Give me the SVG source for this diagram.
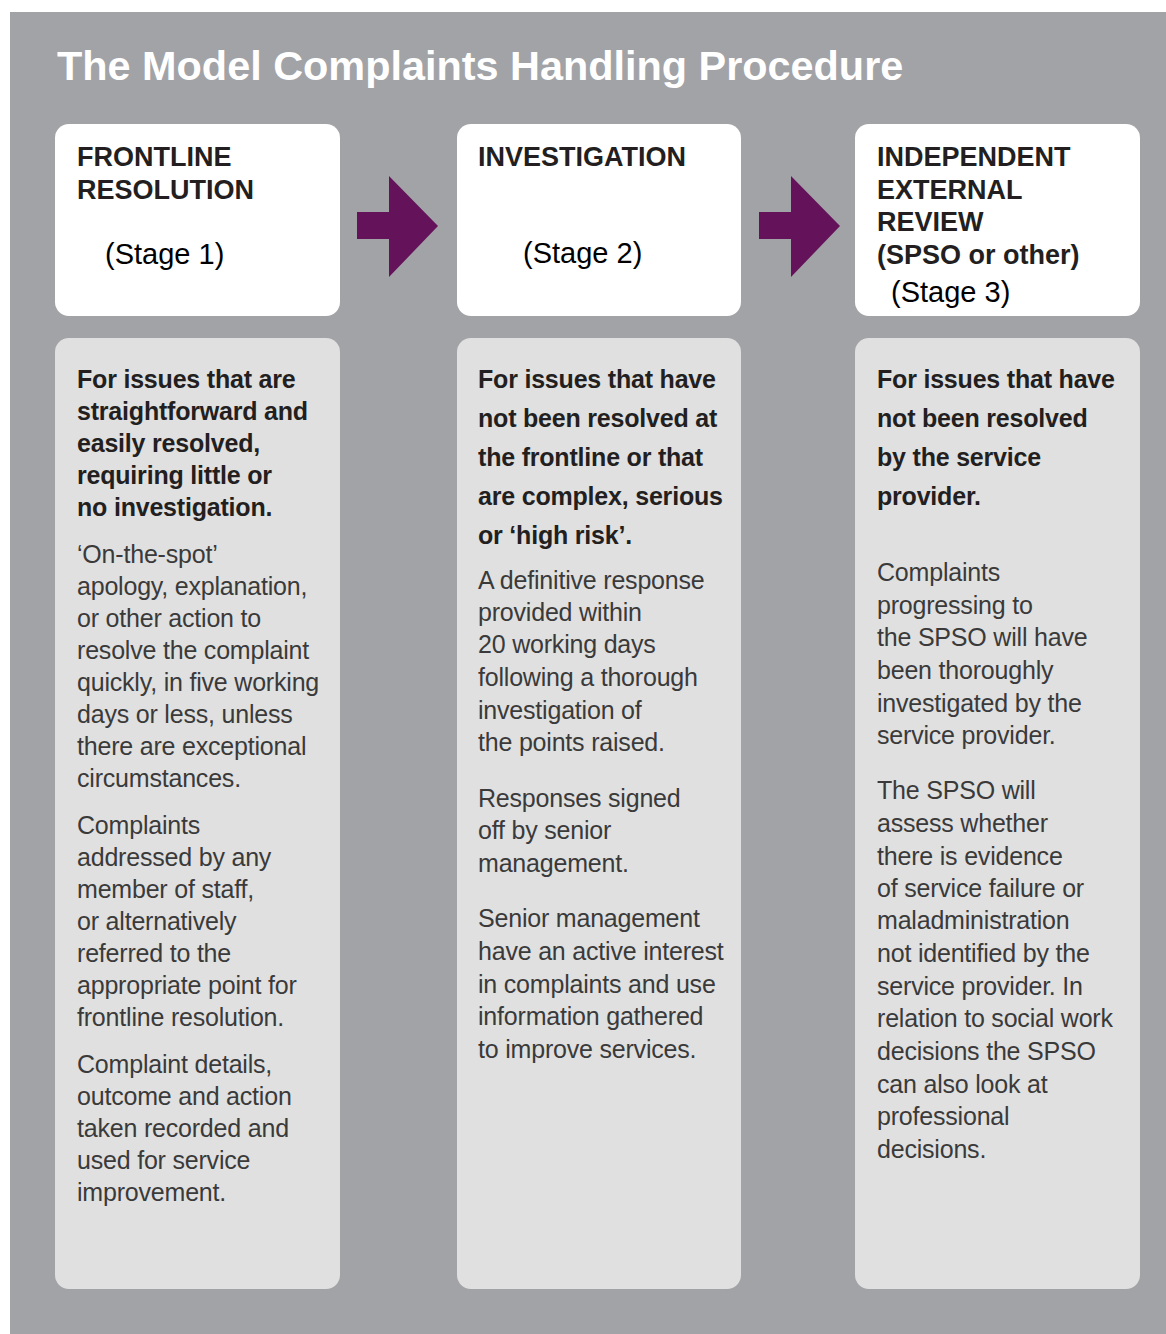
<svg xmlns="http://www.w3.org/2000/svg" width="1166" height="1334" viewBox="0 0 1166 1334">
<style>
.bg{fill:#a2a3a7}
.hdr{fill:#ffffff}
.body{fill:#e0e0e0}
.title{font-family:"Liberation Sans",Arial,sans-serif;font-weight:bold;font-size:41.4px;fill:#ffffff}
.h{font-family:"Liberation Sans",Arial,sans-serif;font-weight:bold;font-size:27px;fill:#231f20}
.stage{font-family:"Liberation Sans",Arial,sans-serif;font-size:29px;fill:#000000}
.b{font-family:"Liberation Sans",Arial,sans-serif;font-weight:bold;font-size:25px;fill:#231f20;letter-spacing:-0.2px}
.l{font-family:"Liberation Sans",Arial,sans-serif;font-size:25px;fill:#3a3a3a;letter-spacing:-0.2px}
.arrow{fill:#64135b}
</style>
<rect x="10" y="12" width="1156" height="1322" class="bg"/>
<text x="57" y="80" class="title">The Model Complaints Handling Procedure</text>

<g id="connectors">
<polygon class="arrow" points="357,212 389,212 389,176 438,226 389,277 389,239 357,239"/>
<polygon class="arrow" points="759,212 791,212 791,176 840,226 791,277 791,239 759,239"/>
</g>

<g id="stage1-header">
<rect x="55" y="124" width="285" height="192" rx="14" class="hdr"/>
<text class="h"><tspan x="77" y="166">FRONTLINE</tspan><tspan x="77" y="199">RESOLUTION</tspan></text>
<text x="105" y="264" class="stage">(Stage 1)</text>
</g>

<g id="stage2-header">
<rect x="457" y="124" width="284" height="192" rx="14" class="hdr"/>
<text class="h"><tspan x="478" y="166">INVESTIGATION</tspan></text>
<text x="523" y="263" class="stage">(Stage 2)</text>
</g>

<g id="stage3-header">
<rect x="855" y="124" width="285" height="192" rx="14" class="hdr"/>
<text class="h"><tspan x="877" y="166">INDEPENDENT</tspan><tspan x="877" y="199">EXTERNAL</tspan><tspan x="877" y="231">REVIEW</tspan><tspan x="877" y="264">(SPSO or other)</tspan></text>
<text x="891" y="302" class="stage">(Stage 3)</text>
</g>

<g id="stage1-body">
<rect x="55" y="338" width="285" height="951" rx="14" class="body"/>
<text class="b"><tspan x="77" y="388">For issues that are</tspan><tspan x="77" y="420">straightforward and</tspan><tspan x="77" y="452">easily resolved,</tspan><tspan x="77" y="484">requiring little or</tspan><tspan x="77" y="516">no investigation.</tspan></text>
<text class="l"><tspan x="77" y="563">‘On-the-spot’</tspan><tspan x="77" y="595">apology, explanation,</tspan><tspan x="77" y="627">or other action to</tspan><tspan x="77" y="659">resolve the complaint</tspan><tspan x="77" y="691">quickly, in five working</tspan><tspan x="77" y="723">days or less, unless</tspan><tspan x="77" y="755">there are exceptional</tspan><tspan x="77" y="787">circumstances.</tspan></text>
<text class="l"><tspan x="77" y="834">Complaints</tspan><tspan x="77" y="866">addressed by any</tspan><tspan x="77" y="898">member of staff,</tspan><tspan x="77" y="930">or alternatively</tspan><tspan x="77" y="962">referred to the</tspan><tspan x="77" y="994">appropriate point for</tspan><tspan x="77" y="1026">frontline resolution.</tspan></text>
<text class="l"><tspan x="77" y="1073">Complaint details,</tspan><tspan x="77" y="1105">outcome and action</tspan><tspan x="77" y="1137">taken recorded and</tspan><tspan x="77" y="1169">used for service</tspan><tspan x="77" y="1201">improvement.</tspan></text>
</g>

<g id="stage2-body">
<rect x="457" y="338" width="284" height="951" rx="14" class="body"/>
<text class="b"><tspan x="478" y="388">For issues that have</tspan><tspan x="478" y="427">not been resolved at</tspan><tspan x="478" y="466">the frontline or that</tspan><tspan x="478" y="505">are complex, serious</tspan><tspan x="478" y="544">or ‘high risk’.</tspan></text>
<text class="l"><tspan x="478" y="589">A definitive response</tspan><tspan x="478" y="621">provided within</tspan><tspan x="478" y="653">20 working days</tspan><tspan x="478" y="686">following a thorough</tspan><tspan x="478" y="719">investigation of</tspan><tspan x="478" y="751">the points raised.</tspan></text>
<text class="l"><tspan x="478" y="807">Responses signed</tspan><tspan x="478" y="839">off by senior</tspan><tspan x="478" y="872">management.</tspan></text>
<text class="l"><tspan x="478" y="927">Senior management</tspan><tspan x="478" y="960">have an active interest</tspan><tspan x="478" y="993">in complaints and use</tspan><tspan x="478" y="1025">information gathered</tspan><tspan x="478" y="1058">to improve services.</tspan></text>
</g>

<g id="stage3-body">
<rect x="855" y="338" width="285" height="951" rx="14" class="body"/>
<text class="b"><tspan x="877" y="388">For issues that have</tspan><tspan x="877" y="427">not been resolved</tspan><tspan x="877" y="466">by the service</tspan><tspan x="877" y="505">provider.</tspan></text>
<text class="l"><tspan x="877" y="581">Complaints</tspan><tspan x="877" y="614">progressing to</tspan><tspan x="877" y="646">the SPSO will have</tspan><tspan x="877" y="679">been thoroughly</tspan><tspan x="877" y="712">investigated by the</tspan><tspan x="877" y="744">service provider.</tspan></text>
<text class="l"><tspan x="877" y="799">The SPSO will</tspan><tspan x="877" y="832">assess whether</tspan><tspan x="877" y="865">there is evidence</tspan><tspan x="877" y="897">of service failure or</tspan><tspan x="877" y="929">maladministration</tspan><tspan x="877" y="962">not identified by the</tspan><tspan x="877" y="995">service provider. In</tspan><tspan x="877" y="1027">relation to social work</tspan><tspan x="877" y="1060">decisions the SPSO</tspan><tspan x="877" y="1093">can also look at</tspan><tspan x="877" y="1125">professional</tspan><tspan x="877" y="1158">decisions.</tspan></text>
</g>
</svg>
